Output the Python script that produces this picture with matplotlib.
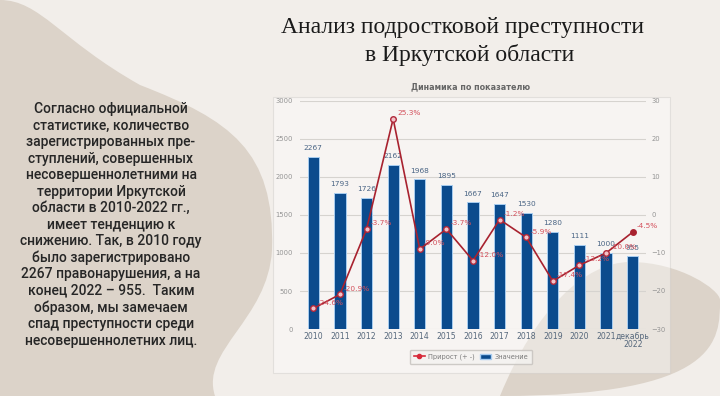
import matplotlib.pyplot as plt
from matplotlib.patches import Rectangle, PathPatch
from matplotlib.path import Path
from matplotlib.lines import Line2D

years = ["2010", "2011", "2012", "2013", "2014", "2015", "2016",
         "2017", "2018", "2019", "2020", "2021", "декабрь\n2022"]
values = [2267, 1793, 1726, 2162, 1968, 1895, 1667, 1647, 1530, 1280, 1111, 1000, 955]
growth = [-24.6, -20.9, -3.7, 25.3, -9.0, -3.7, -12.0, -1.2, -5.9, -17.4, -13.2, -10.0, -4.5]

W, H = 720, 396
fig = plt.figure(figsize=(W / 100, H / 100), dpi=100)
fig.patch.set_facecolor("#f2eeea")

# background shapes of the slide (pixel coords -> figure fraction)
def blob(pts, color):
    verts = [(x / W, 1 - y / H) for x, y in pts]
    codes = [Path.MOVETO] + [Path.CURVE4] * (len(verts) - 2) + [Path.CLOSEPOLY]
    fig.patches.append(PathPatch(Path(verts, codes), transform=fig.transFigure,
                                 facecolor=color, edgecolor="none", zorder=0))

blob([(0, 0), (40, 0), (60, 40), (140, 85),
      (230, 120), (275, 150), (272, 250),
      (268, 320), (200, 350), (215, 396),
      (100, 396), (0, 396), (0, 396), (0, 0)], "#dcd3c9")
blob([(500, 396), (535, 310), (585, 262), (630, 262),
      (680, 262), (720, 290), (720, 300),
      (720, 340), (720, 396), (500, 396), (500, 396)], "#dcd3c9")

# chart box
fig.patches.append(Rectangle((273 / W, 1 - 373 / H), (670 - 273) / W, (373 - 97) / H,
                             transform=fig.transFigure, facecolor="white", alpha=0.4,
                             edgecolor="#c9c6c2", linewidth=0.8, zorder=1))

ax = fig.add_axes([300 / W, 1 - 329 / H, 346 / W, 228 / H])
ax.set_zorder(5)
ax.set_facecolor("none")
x = list(range(len(years)))
bars = ax.bar(x, values, width=0.42, color="#0b4b8d", edgecolor="#a8cdf0",
              linewidth=0.7, zorder=2, label="Значение")
for xi, v in zip(x, values):
    ax.annotate(str(v), (xi, v), xytext=(0, 4), textcoords="offset points",
                ha="center", va="bottom", fontsize=5.3, color="#4a6585")
ax.set_xlim(-0.5, len(years) - 0.5)
ax.set_ylim(0, 3000)
ax.set_yticks(range(0, 3001, 500))
ax.grid(axis="y", color="#d6d3cf", linewidth=0.8)
ax.set_axisbelow(True)
ax.set_xticks(x)
ax.set_xticklabels(years, fontsize=5.6, color="#56687c", linespacing=0.95)
ax.tick_params(axis="y", length=0, pad=5, labelsize=4.9, labelcolor="#949494")
ax.tick_params(axis="x", length=0, pad=2)
for s in ax.spines.values():
    s.set_visible(False)

ax2 = ax.twinx()
ax2.set_zorder(6)
ax2.set_facecolor("none")
line, = ax2.plot(x, growth, color="#a8222f", linewidth=1.2, marker="o",
                 markersize=4, markerfacecolor="#f2c2c8", markeredgecolor="#b0283a",
                 markeredgewidth=1.0, zorder=3, label="Прирост (+ -)")
ax2.plot(x[-1], growth[-1], "o", color="#a8222f", markersize=3, zorder=4)
for xi, g in zip(x, growth):
    ax2.annotate(f"{g:.1f}%", (xi, g), xytext=(3, 2), textcoords="offset points",
                 ha="left", va="bottom", fontsize=5.3, color="#d4505c")
ax2.set_ylim(-30, 30)
ax2.set_yticks(range(-30, 31, 10))
ax2.tick_params(axis="y", length=0, pad=4, labelsize=4.9, labelcolor="#949494")
for s in ax2.spines.values():
    s.set_visible(False)

fig.text(471 / W, 1 - 87 / H, "Динамика по показателю", ha="center", va="center",
         fontsize=5.8, fontweight="bold", color="#666666")

leg = fig.legend(handles=[Line2D([0], [0], color="#d62a3a", marker="o", markersize=3,
                                 linewidth=1.2),
                          Rectangle((0, 0), 1, 1, facecolor="#0b4b8d", edgecolor="#a8cdf0")],
                 labels=["Прирост (+ -)", "Значение"], loc="center",
                 bbox_to_anchor=(471 / W, 1 - 357 / H), ncol=2, fontsize=4.8,
                 frameon=True, handlelength=1.6, columnspacing=0.8, handletextpad=0.5,
                 borderpad=0.6)
leg.set_zorder(8)
leg.get_frame().set_facecolor("#f4f2f0")
leg.get_frame().set_edgecolor("#c4c0bc")
for t in leg.get_texts():
    t.set_color("#7a7a7a")

fig.text(462 / W, 1 - 28 / H, "Анализ подростковой преступности", ha="center", va="center",
         fontsize=17, family="Liberation Serif", color="#1a1a1a")
fig.text(470 / W, 1 - 55 / H, "в Иркутской области", ha="center", va="center",
         fontsize=17, family="Liberation Serif", color="#1a1a1a")

body = ("Согласно официальной\nстатистике, количество\nзарегистрированных пре-\n"
        "ступлений, совершенных\nнесовершеннолетними на\nтерритории Иркутской\n"
        "области в 2010-2022 гг.,\nимеет тенденцию к\nснижению. Так, в 2010 году\n"
        "было зарегистрировано\n2267 правонарушения, а на\nконец 2022 – 955.  Таким\n"
        "образом, мы замечаем\nспад преступности среди\nнесовершеннолетних лиц.")
fig.text(111 / W, 1 - 225 / H, body, ha="center", va="center", fontsize=10,
         family="Roboto", fontweight="medium", color="#262626", linespacing=1.22)

fig.savefig("out.png", dpi=100, facecolor=fig.get_facecolor())
